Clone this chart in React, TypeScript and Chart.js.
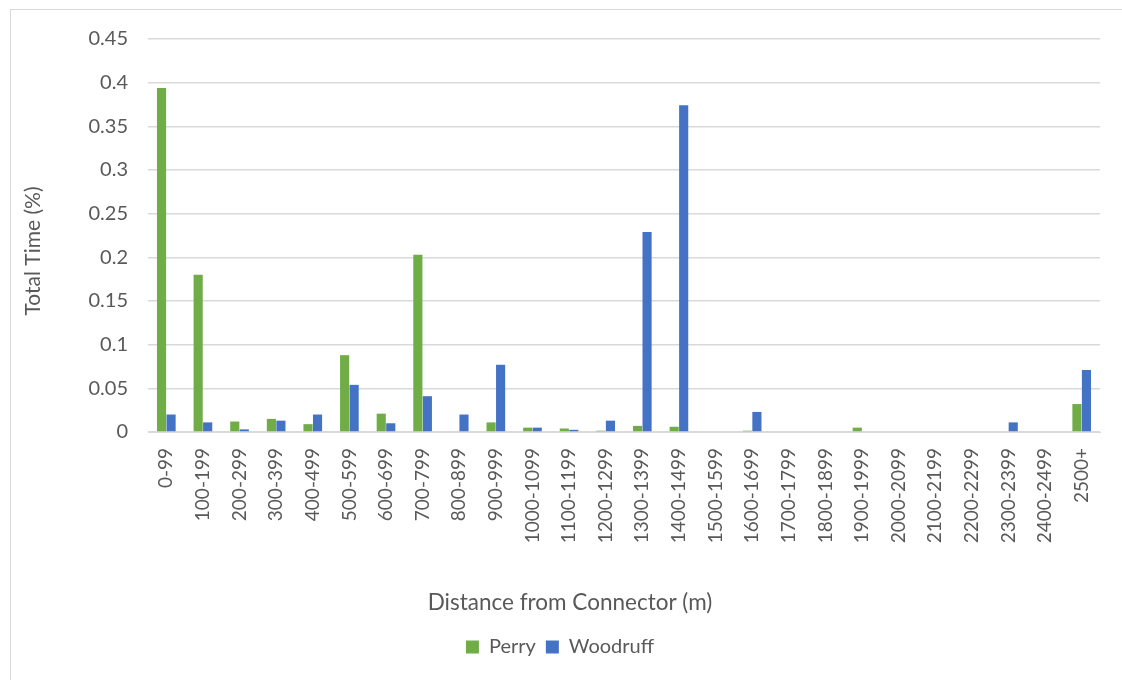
import React, { useEffect, useRef } from "react";
import { Chart, registerables } from "chart.js";

Chart.register(...registerables);

const categories = [
  "0-99", "100-199", "200-299", "300-399", "400-499", "500-599", "600-699",
  "700-799", "800-899", "900-999", "1000-1099", "1100-1199", "1200-1299",
  "1300-1399", "1400-1499", "1500-1599", "1600-1699", "1700-1799", "1800-1899",
  "1900-1999", "2000-2099", "2100-2199", "2200-2299", "2300-2399", "2400-2499", "2500+",
];

const perry = [
  0.394, 0.18, 0.012, 0.015, 0.009, 0.088, 0.021, 0.203, 0, 0.011, 0.005, 0.004,
  0.0015, 0.007, 0.006, 0, 0.0015, 0, 0, 0.005, 0, 0, 0, 0, 0, 0.032,
];

const woodruff = [
  0.02, 0.011, 0.003, 0.013, 0.02, 0.054, 0.01, 0.041, 0.02, 0.077, 0.005, 0.0025,
  0.013, 0.229, 0.374, 0, 0.023, 0, 0, 0, 0, 0, 0, 0.011, 0, 0.071,
];

const yTicks = [0, 0.05, 0.1, 0.15, 0.2, 0.25, 0.3, 0.35, 0.4, 0.45];

const xTitle = "Distance from Connector (m)";
const yTitle = "Total Time (%)";

const FONT = "Lato, 'Open Sans', sans-serif";
const TEXT = "#595959";

const titlesPlugin = {
  id: "titlesPlugin",
  afterDraw(chart: any) {
    const ctx = chart.ctx;
    ctx.save();
    ctx.fillStyle = TEXT;
    ctx.textAlign = "center";
    ctx.textBaseline = "middle";
    ctx.font = `22.5px ${FONT}`;
    ctx.fillText(xTitle, 570, 603);
    ctx.font = `21px ${FONT}`;
    ctx.translate(33, 251);
    ctx.rotate(-Math.PI / 2);
    ctx.fillText(yTitle, 0, 0);
    ctx.restore();
  },
};

export default function App() {
  const ref = useRef<HTMLCanvasElement | null>(null);

  useEffect(() => {
    if (!ref.current) return;
    const chart = new Chart(ref.current, {
      type: "bar",
      data: {
        labels: categories,
        datasets: [
          {
            label: "Perry",
            data: perry,
            backgroundColor: "#70AD47",
            categoryPercentage: 0.52,
            barPercentage: 0.96,
          },
          {
            label: "Woodruff",
            data: woodruff,
            backgroundColor: "#4472C4",
            categoryPercentage: 0.52,
            barPercentage: 0.96,
          },
        ],
      },
      plugins: [titlesPlugin],
      options: {
        animation: false,
        responsive: false,
        maintainAspectRatio: false,
        layout: { padding: { left: 20, right: 22, top: 39, bottom: 13 } },
        plugins: {
          tooltip: { enabled: false },
          legend: {
            position: "bottom",
            labels: {
              color: TEXT,
              font: { family: FONT, size: 20 },
              boxWidth: 13,
              boxHeight: 13,
              padding: 10,
            },
          },
        },
        scales: {
          x: {
            afterFit: (scale: any) => {
              scale.height = 195;
            },
            grid: { display: false },
            border: { color: "#d9d9d9", width: 1 },
            ticks: {
              color: TEXT,
              font: { family: FONT, size: 19 },
              minRotation: 90,
              maxRotation: 90,
              autoSkip: false,
              padding: 8,
            },
          },
          y: {
            min: 0,
            max: 0.45,
            afterBuildTicks: (scale: any) => {
              scale.ticks = yTicks.map((v) => ({ value: v }));
            },
            afterFit: (scale: any) => {
              scale.width = 128;
            },
            grid: { color: "#d9d9d9", lineWidth: 1.5, drawTicks: false },
            border: { display: false },
            ticks: {
              color: TEXT,
              font: { family: FONT, size: 20 },
              padding: 20,
              callback: (v: any) => String(Number(v)),
            },
          },
        },
      },
    });
    return () => chart.destroy();
  }, []);

  return (
    <div style={{ position: "fixed", left: 0, top: 0, width: 1122, height: 680, background: "#fff" }}>
      <div
        style={{
          position: "absolute",
          left: 10,
          top: 9,
          width: 1130,
          height: 690,
          border: "1px solid #d9d9d9",
          boxSizing: "border-box",
        }}
      />
      <canvas
        ref={ref}
        width={1122}
        height={680}
        style={{ position: "absolute", left: 0, top: 0, width: 1122, height: 680 }}
      />
    </div>
  );
}
